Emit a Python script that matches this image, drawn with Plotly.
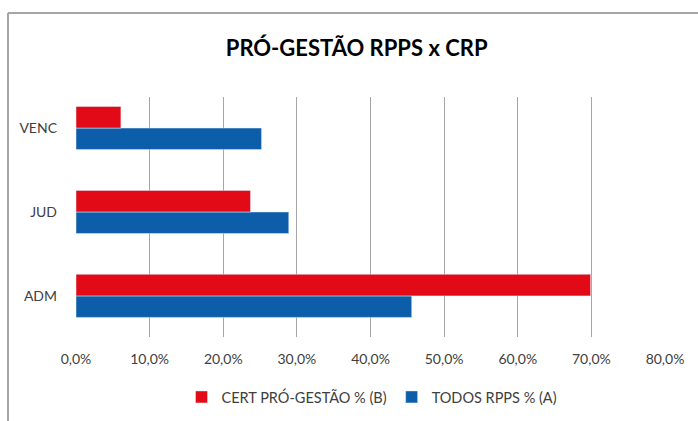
import plotly.graph_objects as go

categories = ["ADM", "JUD", "VENC"]
todos_rpps = [0.456, 0.289, 0.252]
cert_pro_gestao = [0.699, 0.237, 0.061]
x_ticks = [0, 0.1, 0.2, 0.3, 0.4, 0.5, 0.6, 0.7, 0.8]
x_tick_labels = ["0,0%", "10,0%", "20,0%", "30,0%", "40,0%", "50,0%", "60,0%", "70,0%", "80,0%"]

W, H = 698, 421
L, R, T, B = 76, 33, 97, 84
pw, ph = W - L - R, H - T - B

def px(x):
    return (x - L) / pw

def py(y):
    return (H - B - y) / ph

fig = go.Figure()
fig.add_trace(go.Bar(
    y=categories, x=todos_rpps, orientation="h", name="TODOS RPPS % (A)",
    marker=dict(color="#0D5EAA"),
))
fig.add_trace(go.Bar(
    y=categories, x=cert_pro_gestao, orientation="h", name="CERT PRÓ-GESTÃO % (B)",
    marker=dict(color="#E30A17"),
))

frame = dict(type="line", xref="paper", yref="paper", line=dict(color="#A6A6A6", width=2), layer="above")
fig.update_layout(
    width=W, height=H,
    margin=dict(l=L, r=R, t=T, b=B),
    paper_bgcolor="white", plot_bgcolor="white",
    font=dict(family="Lato, Open Sans, sans-serif", size=14, color="#404040"),
    barmode="group", bargap=0.486, bargroupgap=0,
    title=dict(text="<b>PRÓ-GESTÃO RPPS x CRP</b>", x=0.511, xanchor="center",
               y=1 - 48 / H, yanchor="middle", font=dict(size=22, color="#000000")),
    xaxis=dict(range=[0, 0.8], tickvals=x_ticks, ticktext=x_tick_labels,
               showgrid=True, gridcolor="#A6A6A6", gridwidth=1, zeroline=False,
               showline=False, ticks="", ticklabelstandoff=12, automargin=False),
    yaxis=dict(range=[-0.49, 2.37], showgrid=False, zeroline=False, showline=False,
               ticks="", ticklabelstandoff=18, automargin=False),
    legend=dict(orientation="h", traceorder="reversed",
                xref="container", x=372 / W, xanchor="center",
                yref="container", y=1 - 397 / H, yanchor="middle",
                font=dict(size=14.5, color="#404040"), itemwidth=30),
    showlegend=True,
    shapes=[
        dict(frame, x0=px(8), x1=px(W + 5), y0=py(13), y1=py(13)),
        dict(frame, x0=px(8), x1=px(8), y0=py(13), y1=py(H + 5)),
    ],
)

fig.write_html("out.html", config={"displayModeBar": False},
               post_script="document.body.style.margin='0';")
